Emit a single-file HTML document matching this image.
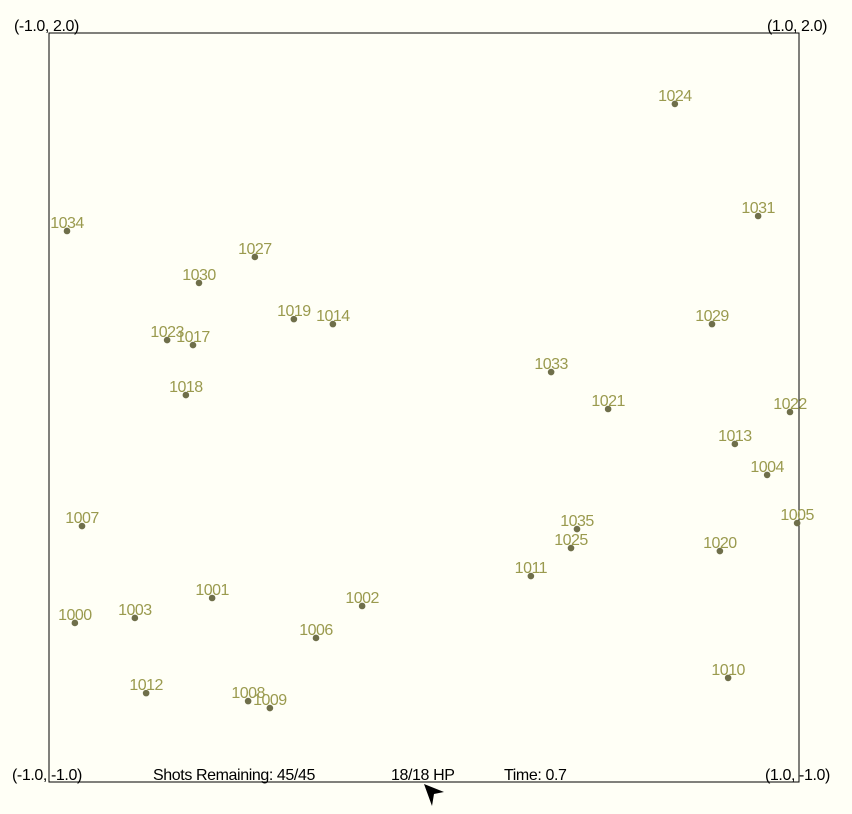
<!DOCTYPE html>
<html><head><meta charset="utf-8"><style>
body{margin:0;background:#fffff6;}
svg{display:block;font-family:"Liberation Sans",sans-serif;}
</style></head><body>
<svg id="c" width="852" height="814">
<rect x="0" y="0" width="852" height="814" fill="#fffff6"/>
<rect x="49" y="33" width="750" height="749" fill="none" stroke="#000" stroke-width="1"/>
<g font-size="16" fill="#000" letter-spacing="-0.4">
<text x="14" y="31">(-1.0, 2.0)</text>
<text x="767" y="31">(1.0, 2.0)</text>
<text x="12" y="780">(-1.0, -1.0)</text>
<text x="765" y="780">(1.0, -1.0)</text>
<text x="153" y="780">Shots Remaining: 45/45</text>
<text x="391" y="780">18/18 HP</text>
<text x="504" y="780">Time: 0.7</text>
</g>
<polygon points="424,784 444,792 434,794 432,806" fill="#000"/>
<g id="pts"></g>
</svg>
<script>
const ids=[1034,1027,1030,1019,1014,1023,1017,1018,1024,1031,1029,1033,1021,1022,1013,1004,1005,1007,1035,1025,1020,1011,1001,1002,1003,1000,1006,1010,1012,1008,1009];
const xs=[-0.952,-0.451,-0.600,-0.347,-0.243,-0.685,-0.616,-0.635,0.669,0.891,0.768,0.339,0.491,0.976,0.829,0.915,0.995,-0.912,0.408,0.392,0.789,0.285,-0.565,-0.165,-0.771,-0.931,-0.288,0.811,-0.741,-0.469,-0.411];
const ys=[1.207,1.103,0.999,0.854,0.834,0.770,0.750,0.550,1.716,1.267,0.834,0.642,0.494,0.482,0.354,0.230,0.037,0.025,0.013,-0.063,-0.075,-0.175,-0.263,-0.295,-0.343,-0.363,-0.423,-0.583,-0.644,-0.676,-0.704];
const X=v=>49+(v+1)/2*750, Y=v=>782-(v+1)/3*749;
const g=document.getElementById('pts'),NS='http://www.w3.org/2000/svg';
ids.forEach((id,i)=>{
 const c=document.createElementNS(NS,'circle');
 c.setAttribute('cx',X(xs[i]));c.setAttribute('cy',Y(ys[i]));c.setAttribute('r',3.3);c.setAttribute('fill','#6f6f4a');
 
 
 g.appendChild(c);
 const t=document.createElementNS(NS,'text');
 t.setAttribute('x',X(xs[i]));t.setAttribute('y',Y(ys[i])-3);t.setAttribute('text-anchor','middle');
 t.setAttribute('font-size','16');t.setAttribute('letter-spacing','-0.5');t.setAttribute('fill','#9a9a4e');t.textContent=id;
 
 
 g.appendChild(t);
});
</script>
</body></html>
